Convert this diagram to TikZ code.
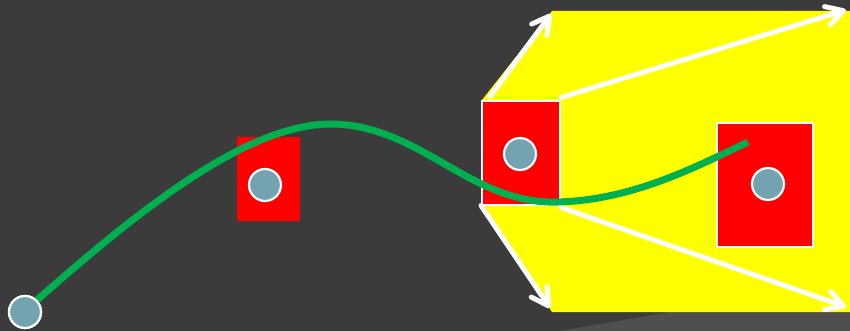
\documentclass[tikz,border=0pt]{standalone}
\usetikzlibrary{arrows.meta}
\definecolor{bg}{HTML}{3B3B3B}
\definecolor{shadowgray}{HTML}{4F4F4F}
\definecolor{ylw}{HTML}{FFFF00}
\definecolor{redbox}{HTML}{FF0000}
\definecolor{dotfill}{HTML}{73A2B0}
\definecolor{grn}{HTML}{00B050}
\tikzset{
  boxplain/.style={fill=redbox, draw=none, inner sep=0pt},
  boxframed/.style={fill=redbox, draw=white, line width=2pt, inner sep=0pt},
  dotnode/.style={circle, fill=dotfill, draw=white, line width=2.2pt, minimum size=32pt, inner sep=0pt},
  whitearrow/.style={draw=white, line width=5pt, line cap=round,
    -{Straight Barb[length=17pt,width=19pt,line cap=round,line join=round]}},
}
\begin{document}
\begin{tikzpicture}[x=1pt,y=-1pt]
\fill[bg] (0,0) rectangle (850,331);
\useasboundingbox (0,0) rectangle (850,331);
% shadow
\fill[shadowgray] (560,331) -- (670,312) -- (850,312) -- (850,331) -- cycle;
% yellow region
\fill[ylw] (482,100) -- (552,11) -- (850,11) -- (850,312) -- (552,312) -- (482,205) -- cycle;
% red boxes
\node[boxplain, minimum width=63pt, minimum height=84pt] (r1) at (268,179) {};
\node[boxframed, minimum width=78pt, minimum height=103pt] (r2) at (521,153) {};
\node[boxframed, minimum width=96pt, minimum height=124pt] (r3) at (765,185) {};
% arrow endpoints
\coordinate (t1) at (551,14);
\coordinate (t2) at (846,10);
\coordinate (t3) at (550,308);
\coordinate (t4) at (846,307);
\draw[whitearrow] ([shift={(9,-4)}]r2.north west) -- (t1);
\draw[whitearrow] ([shift={(0,-3)}]r2.north east) -- (t2);
\draw[whitearrow] (r2.south west) -- (t3);
\draw[whitearrow] ([shift={(0,2)}]r2.south east) -- (t4);
% dots
\node[dotnode] (c1) at (25,312) {};
\node[dotnode] (c2) at (265,185) {};
\node[dotnode] (c3) at (520,154) {};
\node[dotnode] (c4) at (768,184) {};
% green curve
\coordinate (g0) at (36,301);
\coordinate (g9) at (748,142);
\draw[grn, line width=7pt] (g0) .. controls (150,200) and (250,125) .. (330,124)
  .. controls (420,124) and (470,205) .. (558,202)
  .. controls (630,200) and (690,170) .. (g9);
\node[dotnode] at (c1) {};
\end{tikzpicture}
\end{document}
